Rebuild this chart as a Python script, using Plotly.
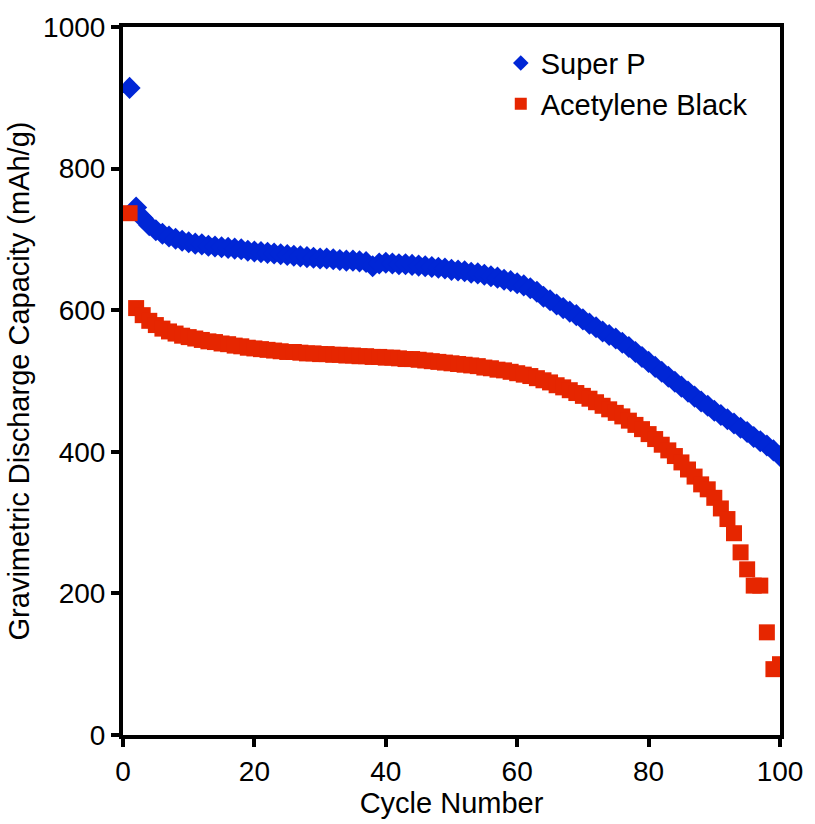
import plotly.graph_objects as go

cycles = list(range(1, 101))

super_p = [
    914, 745, 730, 720, 713, 708, 704, 701, 698, 696,
    694, 693, 691, 690, 689, 688, 687, 686, 684, 683,
    682, 681, 680, 679, 678, 677, 676, 675, 674, 673,
    673, 672, 671, 670, 670, 669, 668, 662, 666, 667,
    666, 665, 665, 664, 663, 662, 661, 660, 659, 657,
    656, 655, 653, 652, 650, 648, 646, 643, 641, 638,
    635, 631, 626, 619, 614, 608, 603, 598, 593, 587,
    581, 576, 570, 565, 560, 554, 548, 541, 534, 527,
    520, 513, 506, 499, 492, 485, 478, 471, 465, 458,
    452, 446, 440, 434, 428, 421, 415, 409, 402, 394,
]

acetylene_black = [
    737, 603, 593, 585, 579, 574, 570, 567, 564, 562,
    560, 558, 556, 555, 553, 552, 550, 549, 547, 546,
    545, 544, 543, 542, 541, 541, 540, 539, 539, 538,
    538, 537, 537, 536, 536, 535, 535, 534, 534, 533,
    533, 532, 531, 531, 530, 529, 528, 527, 526, 525,
    524, 523, 522, 521, 519, 518, 516, 515, 513, 511,
    509, 507, 504, 501, 498, 494, 491, 487, 483, 479,
    475, 470, 465, 460, 455, 450, 444, 438, 432, 425,
    418, 410, 402, 394, 385, 375, 365, 354, 347, 335,
    320, 305, 285, 258, 234, 211, 211, 145, 93, 100,
]

x_ticks = [0, 20, 40, 60, 80, 100]
y_ticks = [0, 200, 400, 600, 800, 1000]

font_family = "Liberation Sans, Arial, sans-serif"

fig = go.Figure()
fig.add_trace(go.Scatter(
    x=cycles, y=super_p, mode="markers", name="Super P",
    marker=dict(symbol="diamond", size=17, color="#0026d6", line=dict(width=0)),
))
fig.add_trace(go.Scatter(
    x=cycles, y=acetylene_black, mode="markers", name="Acetylene Black",
    marker=dict(symbol="square", size=16, color="#e62600", line=dict(width=0)),
))

fig.update_layout(
    width=815, height=824,
    margin=dict(l=123, r=29, t=23, b=89),
    paper_bgcolor="white", plot_bgcolor="white",
    font=dict(family=font_family, size=28, color="black"),
    showlegend=True,
    legend=dict(x=0.575, y=0.985, xanchor="left", yanchor="top",
                bgcolor="rgba(0,0,0,0)", font=dict(size=29),
                itemsizing="constant", tracegroupgap=0, itemwidth=30),
    xaxis=dict(range=[0, 100], tickvals=x_ticks, ticktext=[str(v) for v in x_ticks],
               showgrid=False, zeroline=False, showline=True, linewidth=4,
               linecolor="black", mirror=True, ticks="outside", ticklen=8,
               tickwidth=4, tickcolor="black", tickfont=dict(size=28),
               title=dict(text="Cycle Number", standoff=4, font=dict(size=29))),
    yaxis=dict(range=[0, 1000], tickvals=y_ticks, ticktext=[str(v) for v in y_ticks],
               showgrid=False, zeroline=False, showline=True, linewidth=4,
               linecolor="black", mirror=True, ticks="outside", ticklen=8,
               tickwidth=4, tickcolor="black", tickfont=dict(size=28),
               title=dict(text="Gravimetric Discharge Capacity (mAh/g)", standoff=6,
                          font=dict(size=29))),
)

fig.write_html("out.html")
